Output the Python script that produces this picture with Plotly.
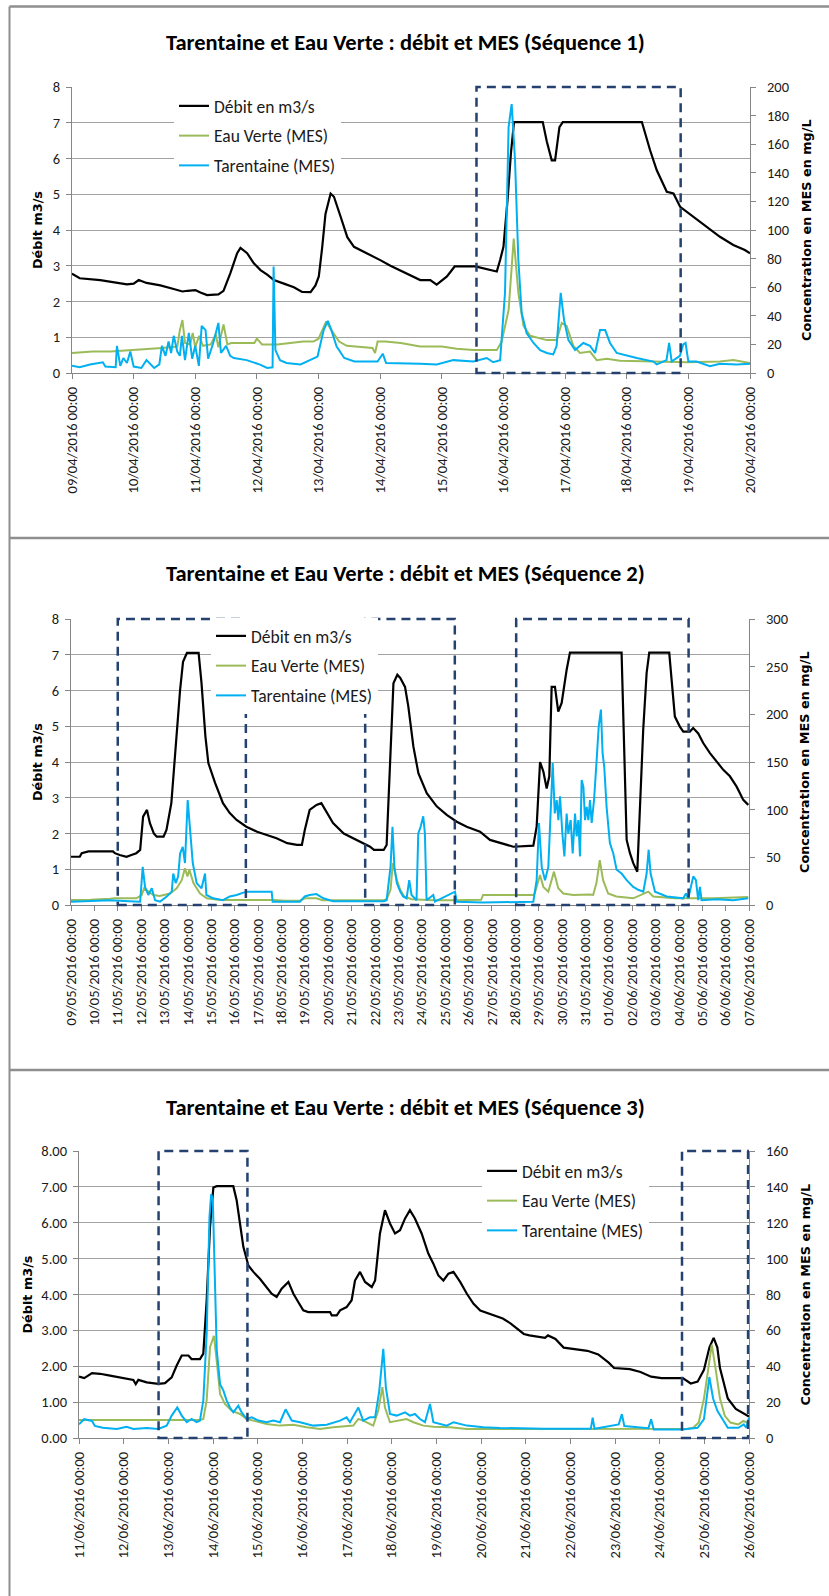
import pandas as pd
import plotly.graph_objects as go

W, H = 829, 1596

# ---------------------------------------------------------------------------
# Series: (hours since the start of the sequence, value)
# Débit in m3/s (left axis), MES in mg/L (right axis)
# ---------------------------------------------------------------------------

# Séquence 1 : 09/04/2016 -> 20/04/2016
debit_1 = [(0, 2.78), (3, 2.65), (11, 2.6), (17.5, 2.52), (21.4, 2.48), (24, 2.5), (26, 2.6), (29, 2.52),
           (34.4, 2.45), (39.6, 2.35), (43, 2.28), (45, 2.3), (48, 2.32), (50, 2.25), (52.6, 2.18), (57, 2.2),
           (59, 2.3), (61.7, 2.8), (64.3, 3.35), (65.6, 3.5), (68.2, 3.35), (70.8, 3.07), (73.4, 2.88),
           (76, 2.75), (78.6, 2.6), (82.5, 2.5), (86.4, 2.4), (89.6, 2.27), (92.9, 2.26), (94.8, 2.45),
           (96.1, 2.7), (97.4, 3.5), (98.7, 4.45), (100.7, 5.02), (102, 4.93), (104.6, 4.37), (107.2, 3.8),
           (109.8, 3.53), (115, 3.35), (120.2, 3.15), (124, 3.0), (128.4, 2.85), (131, 2.75), (135.6, 2.6),
           (139.5, 2.6), (142, 2.47), (146, 2.7), (149, 2.98), (157, 2.98), (161.5, 2.9), (165.4, 2.84),
           (166.7, 3.16), (168, 3.53), (169.6, 4.84), (170.9, 6.14), (172.1, 7.02), (183.3, 7.02),
           (184.9, 6.47), (186.8, 5.95), (188.1, 5.95), (189.8, 6.88), (191.1, 7.02), (221.9, 7.02),
           (225.1, 6.23), (227.7, 5.67), (231.6, 5.07), (234.2, 5.02), (236.8, 4.65), (239.4, 4.51),
           (243.2, 4.28), (247.1, 4.09), (252.3, 3.81), (257.5, 3.58), (262, 3.44), (264, 3.35)]

verte_1 = [(0, 14), (8, 15), (15, 15), (25, 16), (35, 17.5), (41, 18.5), (42, 30), (43, 37), (44, 21),
           (46, 20), (47, 28), (48, 18), (49.5, 26), (51, 19), (54, 20), (56, 27), (57, 18), (59, 34),
           (60.5, 20), (62, 21), (66, 21), (71, 21), (72, 24), (74, 20), (80, 20), (86, 21), (90, 22),
           (94, 22), (96, 24), (98, 32), (99, 36), (101, 30), (104, 22), (107, 19), (112, 18), (117, 17.5),
           (118, 14), (119, 22), (122, 22), (128, 21), (135.6, 18.6), (144, 18.5), (149.8, 17), (156.3, 16),
           (165.4, 16), (167.3, 22), (170, 44), (172, 94), (173.8, 56), (175.8, 33), (178.4, 26), (184.9, 23),
           (188.7, 23), (190.7, 35), (192.6, 33), (195.2, 19), (197.8, 14), (201.7, 15), (204.3, 9),
           (208.2, 10), (213.4, 8.5), (226.4, 8), (239.3, 7.5), (252.3, 8), (257.5, 9), (264, 7)]

tar_1 = [(0, 5), (3, 4), (7, 6), (12, 7.5), (13, 4.5), (17, 4), (17.5, 19), (18.8, 5), (20, 10.5), (21.4, 7),
         (22.7, 15), (24, 4.5), (27, 3.5), (29, 9), (32, 3.5), (34, 6), (35, 19), (36.4, 12), (37.6, 22),
         (38.6, 14), (39.6, 26), (41, 15), (42, 12), (42.8, 26), (44, 9), (45.5, 28), (46.8, 10), (48, 19),
         (49.4, 5), (50.5, 33), (52, 30), (53, 10), (55, 21), (57, 35), (58, 14), (60, 19), (61.6, 12),
         (63, 10.5), (68, 9), (73, 6), (76, 3.5), (78.1, 4), (78.5, 74.5), (79.2, 16), (81, 9), (83.5, 7),
         (89, 6), (95.6, 11.5), (98, 30), (99.6, 36.5), (101, 30), (103, 18.6), (106, 10.5), (110, 8),
         (119, 8), (121, 13.5), (122.3, 7), (130, 7), (135.6, 6.5), (142, 6), (146, 8), (148.5, 9),
         (156.3, 8), (161.5, 10.5), (164, 7.5), (166.7, 9), (168.6, 56), (170, 172), (171.2, 188),
         (172.5, 149), (173.8, 79), (175.1, 42), (177, 28), (179.7, 21), (182.3, 16), (184.9, 14),
         (187.4, 13), (188.7, 19), (190.3, 56), (191.6, 37), (193.3, 23), (195.9, 16), (199.1, 21),
         (201.7, 19), (203.7, 14), (205.6, 30), (207.6, 30), (209.5, 21), (212.1, 14), (216, 12),
         (219.9, 10.5), (226.4, 8), (227.7, 6), (231.5, 9), (232.5, 21), (233.5, 8), (236.7, 12), (238, 20),
         (238.9, 21), (240, 8), (243.2, 8), (248.4, 4.7), (252.3, 6.5), (258.8, 6), (264, 6.5)]

# Séquence 2 : 09/05/2016 -> 07/06/2016
debit_2 = [(0, 1.35), (9, 1.35), (11, 1.45), (18, 1.5), (43, 1.5), (45, 1.45), (50, 1.4), (57, 1.35), (62, 1.4),
           (67, 1.45), (71, 1.54), (74, 2.47), (78, 2.66), (81, 2.29), (85, 2.0), (88, 1.91), (95, 1.91),
           (98, 2.1), (103, 2.85), (107, 4.34), (112, 6.02), (115, 6.8), (119, 7.05), (131, 7.05), (134, 6.2),
           (138, 4.71), (141, 3.97), (148, 3.41), (156, 2.85), (163, 2.57), (170, 2.38), (180, 2.19),
           (191, 2.05), (201, 1.96), (211, 1.87), (222, 1.73), (232, 1.68), (237, 1.68), (240, 2.1),
           (245, 2.66), (252, 2.8), (257, 2.85), (261, 2.66), (269, 2.29), (280, 2.0), (290, 1.87), (300, 1.73),
           (307, 1.63), (311, 1.54), (321, 1.54), (324, 1.68), (328, 4.15), (331, 6.2), (335, 6.44),
           (338, 6.35), (342.9, 6.1), (346.3, 5.55), (351.5, 4.43), (356.6, 3.69), (365.2, 3.13),
           (375.4, 2.76), (385.7, 2.52), (396, 2.33), (406.2, 2.19), (419.9, 2.05), (430.1, 1.82),
           (440.4, 1.73), (454.1, 1.63), (474.6, 1.66), (478, 2.19), (481.5, 4.0), (484.9, 3.73), (488.3, 3.26),
           (491, 3.6), (493.4, 6.1), (496.8, 6.1), (500.2, 5.41), (503.7, 5.65), (508.8, 6.58), (512.2, 7.06),
           (565.2, 7.06), (567.6, 4.43), (570.4, 1.82), (573.8, 1.45), (577.2, 1.17), (581.3, 0.93),
           (584, 2.57), (587.4, 4.9), (590.9, 6.49), (593.6, 7.06), (614.1, 7.06), (616.5, 6.3), (619.9, 5.27),
           (625, 4.99), (628.5, 4.85), (635.3, 4.85), (638.7, 4.95), (643.9, 4.8), (649, 4.53), (655.9, 4.25),
           (662.7, 4.0), (669.6, 3.78), (676.4, 3.6), (683.3, 3.31), (690.1, 2.94), (695.2, 2.8)]

verte_2 = [(0, 5.3), (20, 5.5), (40, 6.5), (45, 7), (67, 7), (72.6, 10.5), (75, 17.5), (79.4, 14), (84.6, 10.5),
           (91, 9.5), (101.7, 12), (108.5, 17.5), (113.7, 26), (117, 38.5), (119.5, 30), (121.5, 37),
           (125.7, 23), (132.5, 12), (139.4, 7), (153, 5.3), (180, 5.5), (208, 5.3), (220, 4.5), (235, 4.5),
           (240, 7), (252, 7), (258, 5), (290, 5), (321, 5), (324, 6), (328, 16), (330.4, 44), (334.5, 26),
           (338, 16), (342, 9), (350, 6), (372, 5), (392.5, 5), (421, 5.5), (423, 10.5), (474.6, 10.5),
           (476, 12), (481.5, 31.5), (484.9, 19), (490, 14), (495.8, 35), (500.2, 17.5), (505.4, 12),
           (515.6, 10.5), (532.7, 11), (536, 10.5), (539.4, 23), (542.8, 47), (546.2, 26), (551.4, 12),
           (559.9, 9), (577.2, 7), (592.6, 14), (597.7, 9), (620, 7), (660, 7), (695.2, 8.5)]

tar_2 = [(0, 3.5), (20, 4), (40, 5), (60, 4), (71, 3.5), (73.6, 40), (76, 19), (79.4, 10.5), (82.9, 17.5),
         (86.3, 5), (91.4, 3.5), (98.3, 9), (103.4, 14), (105, 33), (107.5, 23), (110, 30), (112, 54),
         (114.7, 61), (117, 44), (119.8, 110), (122, 79), (125, 44), (129, 23), (134, 17.5), (137.6, 33),
         (139, 10.5), (146, 7), (156, 5), (163, 9), (170, 10.5), (180, 14), (206, 14), (207, 3.5), (235, 3.5),
         (240, 9), (245, 10.5), (252, 11.5), (259, 7), (269, 4), (321, 4), (324, 5), (328, 40), (330, 82),
         (332, 40), (334.5, 23), (338, 14), (341, 9), (344.5, 7), (347.2, 26), (349.6, 10.5), (354.7, 5),
         (356.5, 75), (358.9, 82), (361.6, 93), (363.3, 75), (365, 5), (371.9, 10.5), (373.6, 3.5),
         (394.2, 14), (395.9, 3.5), (423, 2.5), (474.6, 3.5), (478, 26), (480.4, 86), (483.2, 40),
         (486.6, 26), (490, 40), (492.5, 96), (494.5, 149), (496.6, 96), (498.6, 110), (500.3, 89),
         (502, 114), (504.4, 75), (506.5, 51), (508.8, 96), (510.5, 75), (512.9, 89), (515, 54), (517.4, 96),
         (519.1, 72), (520.8, 89), (522.5, 51), (524.2, 131), (526, 124), (527.7, 89), (529.4, 103),
         (531.1, 89), (532.8, 110), (534.5, 86), (536.9, 110), (539.6, 152), (541.7, 187), (544, 205),
         (545.7, 159), (547.4, 145), (549.8, 103), (553.2, 65), (556.7, 54), (560.1, 37), (565.2, 33),
         (570.4, 26), (577.2, 19), (582.3, 16), (587.5, 14), (590.9, 33), (593, 58), (595, 33), (599.5, 14),
         (611.5, 9), (628.5, 7), (631.3, 12), (633.7, 7), (638.8, 30), (641.5, 26), (643.9, 5), (645.6, 19),
         (647.3, 5), (662.7, 6), (679.8, 5), (695.2, 7)]

# Séquence 3 : 11/06/2016 -> 26/06/2016
debit_3 = [(0, 1.71), (2.8, 1.67), (7, 1.81), (11.3, 1.79), (16.7, 1.74), (22, 1.69), (29.2, 1.62), (30.5, 1.5),
           (31.9, 1.62), (36.4, 1.55), (42.6, 1.51), (46.2, 1.53), (49.8, 1.69), (52.5, 2.02), (55.2, 2.3),
           (58.8, 2.3), (60.5, 2.2), (65, 2.2), (66.8, 2.35), (68.6, 3.84), (70.4, 5.88), (72.2, 6.98),
           (74, 7.02), (82.9, 7.02), (84.7, 6.63), (86.5, 5.98), (88.3, 5.33), (91, 4.81), (93.7, 4.63),
           (97.2, 4.44), (100.8, 4.21), (103.5, 4.02), (106.2, 3.93), (108.9, 4.16), (112.5, 4.35),
           (115.2, 4.02), (117.8, 3.79), (120.5, 3.56), (123.2, 3.51), (134.9, 3.51), (135.8, 3.42),
           (138.5, 3.42), (140.3, 3.56), (143.8, 3.65), (146.5, 3.84), (148.3, 4.39), (151, 4.63),
           (153.7, 4.35), (157.3, 4.21), (159.1, 4.39), (161.7, 5.7), (164.4, 6.35), (167.1, 5.98),
           (169.8, 5.7), (172.5, 5.79), (175.2, 6.12), (177.8, 6.35), (180.5, 6.12), (184.1, 5.7),
           (187.7, 5.14), (190.4, 4.86), (193.1, 4.53), (195.8, 4.39), (198.5, 4.58), (201.2, 4.63),
           (204.8, 4.35), (208.4, 4.02), (212, 3.74), (215.6, 3.55), (221, 3.45), (227.7, 3.33), (232, 3.19),
           (236.2, 3.0), (239, 2.9), (242, 2.86), (250.4, 2.79), (252, 2.86), (256, 2.76), (260.4, 2.52),
           (267.5, 2.48), (273.2, 2.43), (279, 2.33), (284.6, 2.1), (287.5, 1.95), (296, 1.92), (301.7, 1.84),
           (307.4, 1.71), (313, 1.67), (318.8, 1.67), (324.4, 1.67), (328.7, 1.52), (332.4, 1.57),
           (335.8, 1.9), (338.7, 2.52), (341, 2.79), (343, 2.52), (344.4, 1.95), (348.6, 1.1), (352.9, 0.81),
           (357.2, 0.67), (360, 0.6)]

verte_3 = [(0, 10), (65, 10), (66.8, 10.6), (68.6, 21), (70.4, 50.6), (71.4, 54), (72.5, 57), (74, 43),
           (75.8, 24.6), (78.4, 19), (82, 15.3), (86.5, 13.4), (90.1, 10.6), (93.7, 9.7), (100.8, 7.8),
           (108, 6.9), (115.2, 7.4), (122.3, 6), (129.5, 5), (136.6, 6), (147.4, 6.9), (150.1, 10.6),
           (152.7, 9.7), (158.1, 6.9), (160.8, 15.3), (163, 28.3), (164.4, 17), (167.1, 8.8), (170.7, 9.7),
           (176, 10.6), (179.7, 8.8), (185, 6.9), (190.4, 6.3), (199.4, 6), (208.4, 5), (226.3, 5), (242, 5.1),
           (270, 5.3), (300, 5.1), (327, 5.2), (330, 5.7), (333, 8.6), (335.8, 22), (338.7, 43), (340, 52),
           (342, 39), (344.4, 22), (347, 12.4), (350, 8.6), (354.3, 7.6), (357, 9.5), (360, 8.2)]

tar_3 = [(0, 7.6), (2.8, 10.5), (7, 9.5), (8.5, 6.7), (12.8, 5.7), (20.3, 5), (25.6, 6.3), (29.2, 5), (36.4, 5.6),
         (42.6, 5), (47.1, 6.9), (49.8, 12.5), (52.8, 17), (55.2, 12.5), (57.9, 8.8), (60.5, 10.6), (63.2, 8.8),
         (65, 9.7), (66.8, 21), (68.6, 58), (70.1, 123), (71, 136), (71.9, 133), (72.8, 95), (74, 49),
         (75.8, 30), (77.6, 26.4), (79.3, 21), (81.1, 17), (82.9, 14.3), (85.6, 18), (87.4, 14.3), (90.1, 10.6),
         (92.8, 11.5), (96.4, 9.7), (100.8, 8.8), (104.4, 9.7), (108, 8.8), (111, 16), (114.3, 9.7),
         (118.8, 8.8), (125.9, 6.9), (133.1, 7.4), (140.3, 9.7), (143.8, 11.5), (145.6, 8.8), (150.1, 17),
         (152.7, 9.7), (156.3, 11.5), (159.1, 11.5), (161.3, 26), (163.5, 49.7), (164.9, 28), (167.1, 13.4),
         (170.7, 12.5), (175.2, 14.3), (177.8, 12.5), (180.5, 13.4), (183.2, 10.6), (185.9, 8.8), (188.6, 19),
         (190.4, 8.8), (197.6, 6.9), (201.2, 8.8), (208.4, 6.9), (217.3, 6), (226.3, 5.6), (250, 5.1),
         (275, 5.1), (276, 11.4), (277, 5.1), (290, 7.6), (291.7, 13.3), (293, 6.7), (306, 5.5), (307.4, 10.5),
         (308.8, 4.8), (324.4, 4.8), (332.4, 5.7), (335.8, 10.5), (338.7, 34), (340.7, 22), (343, 15.2),
         (345.8, 10.5), (348.6, 5.7), (354.3, 5.7), (357.2, 7.6), (358.5, 5.7), (360, 11.4)]

# Flood event windows (dashed frames)
events_1 = [("2016-04-15 13:30", "2016-04-18 21:00")]
events_2 = [("2016-05-11 00:00", "2016-05-16 11:30"),
            ("2016-05-21 14:00", "2016-05-25 10:00"),
            ("2016-05-28 01:00", "2016-06-04 10:00")]
events_3 = [("2016-06-12 18:45", "2016-06-14 18:30"),
            ("2016-06-24 12:00", "2016-06-25 23:30")]

series_names = ["Débit en m3/s", "Eau Verte (MES)", "Tarentaine (MES)"]
series_colors = ["#000000", "#9bbb59", "#00b0f0"]
series_widths = [2.2, 2.0, 2.0]

TITLE = "Tarentaine et Eau Verte : débit et MES (Séquence {})"
LEFT_TITLE = "Débit m3/s"
RIGHT_TITLE = "Concentration en MES en mg/L"

# ---------------------------------------------------------------------------
# Layout of the three panels (pixel geometry of each plotting area)
# ---------------------------------------------------------------------------
panels = [
    dict(start="2016-04-09", end="2016-04-20", data=(debit_1, verte_1, tar_1), mes=(200, 20), yfmt="d",
         events=events_1, px=(72, 750), py=(87, 373), title_y=43, ltitle_x=37, rtitle_x=806,
         legend_xy=(174, 88)),
    dict(start="2016-05-09", end="2016-06-07", data=(debit_2, verte_2, tar_2), mes=(300, 50), yfmt="d",
         events=events_2, px=(71, 749), py=(619, 905), title_y=573, ltitle_x=37, rtitle_x=804,
         legend_xy=(211, 618)),
    dict(start="2016-06-11", end="2016-06-26", data=(debit_3, verte_3, tar_3), mes=(160, 20), yfmt=".2f",
         events=events_3, px=(79, 749), py=(1151, 1438), title_y=1107, ltitle_x=27, rtitle_x=805,
         legend_xy=(482, 1153)),
]

TICK_FONT = dict(family="Carlito, Lato, sans-serif", size=14.5, color="#1a1a1a")
AXIS_GREY = "#868686"
GRID_GREY = "#a3a3a3"
FRAME_BLUE = "#24416f"


def px_x(x):
    return x / W


def px_y(y):
    return 1 - y / H


fig = go.Figure()
layout = dict(
    width=W, height=H, margin=dict(l=0, r=0, t=0, b=0, autoexpand=False),
    paper_bgcolor="white", plot_bgcolor="white",
    annotations=[], shapes=[],
)

for i, p in enumerate(panels):
    n = i + 1
    xa = "x" if n == 1 else f"x{n}"
    yl = f"y{2 * n - 1}" if n > 1 else "y"
    yr = f"y{2 * n}"
    leg = "legend" if n == 1 else f"legend{n}"
    t0 = pd.Timestamp(p["start"])

    for k, (series, name, col, lw) in enumerate(zip(p["data"], series_names, series_colors, series_widths)):
        hours = [h for h, _ in series]
        vals = [v for _, v in series]
        times = t0 + pd.to_timedelta(hours, unit="h")
        fig.add_trace(go.Scatter(
            x=times, y=vals, mode="lines", name=name,
            line=dict(color=col, width=lw),
            xaxis=xa, yaxis=yl if k == 0 else yr,
            legend=leg, legendgroup=f"s{n}_{k}", showlegend=True,
            hoverinfo="skip",
        ))

    xdom = [px_x(p["px"][0]), px_x(p["px"][1])]
    ydom = [px_y(p["py"][1]), px_y(p["py"][0])]
    xkey = "xaxis" if n == 1 else f"xaxis{n}"
    ylkey = "yaxis" if n == 1 else f"yaxis{2 * n - 1}"
    yrkey = f"yaxis{2 * n}"

    layout[xkey] = dict(
        domain=xdom, anchor=yl, type="date", automargin=False,
        range=[p["start"], p["end"]], tick0=p["start"], dtick=86400000,
        tickformat="%d/%m/%Y %H:%M", tickangle=-90, tickfont=TICK_FONT,
        ticks="outside", ticklen=5, tickcolor=AXIS_GREY, tickwidth=1, ticklabelstandoff=2,
        showline=True, linecolor=AXIS_GREY, linewidth=1.2,
        showgrid=False, zeroline=False, fixedrange=True,
    )
    layout[ylkey] = dict(
        domain=ydom, anchor=xa, range=[0, 8], dtick=1, tick0=0, automargin=False,
        tickformat=p["yfmt"], tickfont=TICK_FONT,
        ticks="outside", ticklen=5, tickcolor=AXIS_GREY, ticklabelstandoff=3,
        showline=True, linecolor=AXIS_GREY, linewidth=1.2,
        showgrid=True, gridcolor=GRID_GREY, gridwidth=1.3, zeroline=False,
    )
    mes_max, mes_step = p["mes"]
    layout[yrkey] = dict(
        overlaying=yl, anchor=xa, side="right", range=[0, mes_max], dtick=mes_step, tick0=0,
        automargin=False,
        tickfont=TICK_FONT, ticks="outside", ticklen=5, tickcolor=AXIS_GREY, ticklabelstandoff=8,
        showline=True, linecolor=AXIS_GREY, linewidth=1.2,
        showgrid=False, zeroline=False,
    )

    lx, ly = p["legend_xy"]
    layout[leg] = dict(
        x=px_x(lx), y=px_y(ly), xanchor="left", yanchor="top",
        bgcolor="white", borderwidth=0, traceorder="grouped", tracegroupgap=4,
        font=dict(family="Carlito, Lato, sans-serif", size=17.5, color="#1a1a1a"),
    )

    # chart title
    layout["annotations"].append(dict(
        text=f"<b>{TITLE.format(n)}</b>", xref="paper", yref="paper",
        x=px_x(405), y=px_y(p["title_y"]), xanchor="center", yanchor="middle", showarrow=False,
        font=dict(family="Carlito, Lato, sans-serif", size=22.5, color="#000000"),
    ))
    ymid = (p["py"][0] + p["py"][1]) / 2
    layout["annotations"].append(dict(
        text=f"<b>{LEFT_TITLE}</b>", xref="paper", yref="paper", textangle=-90,
        x=px_x(p["ltitle_x"]), y=px_y(ymid), xanchor="center", yanchor="middle", showarrow=False,
        font=dict(family="DejaVu Sans", size=12.8, color="#000000"),
    ))
    layout["annotations"].append(dict(
        text=f"<b>{RIGHT_TITLE}</b>", xref="paper", yref="paper", textangle=-90,
        x=px_x(p["rtitle_x"]), y=px_y(ymid), xanchor="center", yanchor="middle", showarrow=False,
        font=dict(family="DejaVu Sans", size=12.8, color="#000000"),
    ))

    # dashed event frames
    for a, b in p["events"]:
        layout["shapes"].append(dict(
            type="rect", xref=xa, yref=f"{yl} domain", x0=a, x1=b, y0=0, y1=1,
            line=dict(color=FRAME_BLUE, width=2.5, dash="9px,6px"),
            fillcolor="rgba(0,0,0,0)", layer="above",
        ))

# grey frame around the stacked charts
FRAME_GREY = "#8e8e8e"
layout["shapes"].append(dict(type="line", xref="paper", yref="paper",
                             x0=px_x(9.5), x1=px_x(9.5), y0=px_y(6.5), y1=0,
                             line=dict(color=FRAME_GREY, width=2)))
for yy in (6.5, 538, 1070):
    layout["shapes"].append(dict(type="line", xref="paper", yref="paper",
                                 x0=px_x(9.5), x1=1, y0=px_y(yy), y1=px_y(yy),
                                 line=dict(color=FRAME_GREY, width=2.5)))

fig.update_layout(**layout)
fig.write_html("out.html")
